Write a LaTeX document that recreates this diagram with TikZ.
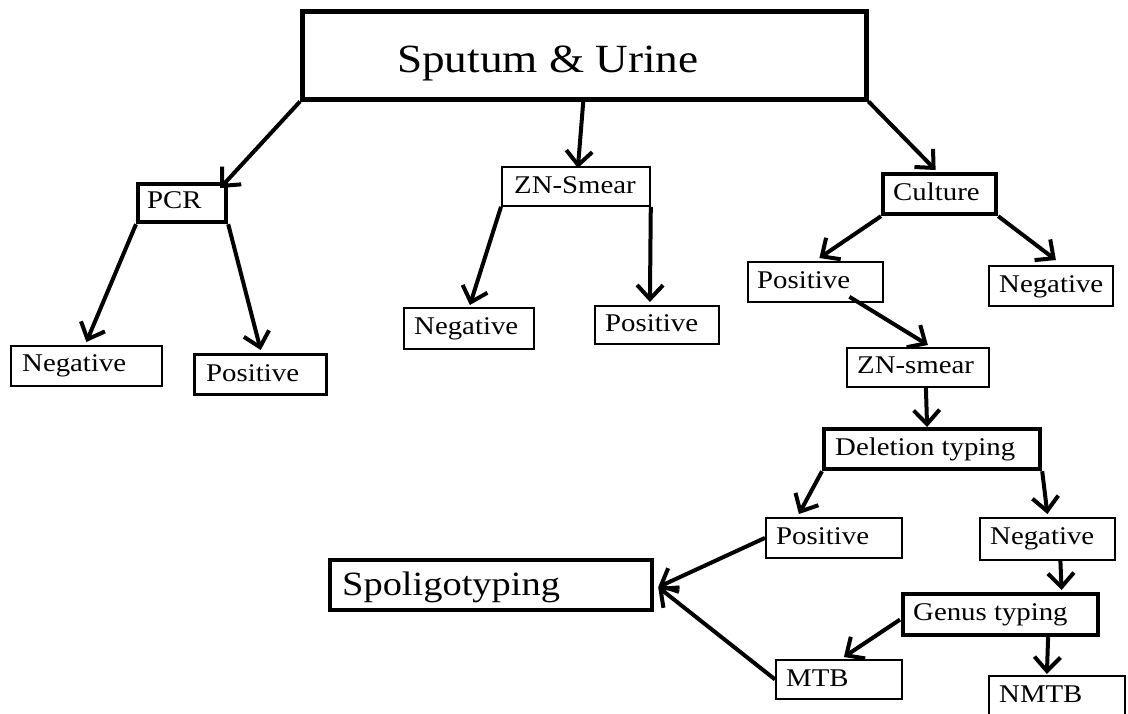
\documentclass[tikz,border=0pt]{standalone}
\usepackage{fontspec}
\setmainfont{Liberation Serif}[FakeStretch=1.13]
\usetikzlibrary{arrows.meta,calc}
\tikzset{
  thinbox/.style={draw=black, line width=1.8pt, inner sep=0pt, anchor=north west},
  thickbox/.style={draw=black, line width=4.2pt, inner sep=0pt, anchor=north west},
  txt/.style={inner sep=0pt, anchor=base west, font=\fontsize{25.5}{30}\selectfont},
  arr/.style={line width=4pt, -{Straight Barb[length=14pt,width=26pt,line width=4pt]}},
}
\begin{document}
\begin{tikzpicture}[x=1pt,y=-1pt]
\useasboundingbox (0,0) rectangle (1128,713);
\clip (0,0) rectangle (1128,713);
% boxes
\node[thickbox, line width=4.5pt, minimum width=564pt, minimum height=88pt] (main) at (300,9) {};
\node[thickbox, minimum width=88pt, minimum height=38pt] (pcr) at (136,182) {};
\node[thinbox, minimum width=148pt, minimum height=39pt] (zn) at (501,166) {};
\node[thickbox, minimum width=113pt, minimum height=40pt] (cul) at (881,172) {};
\node[thinbox, minimum width=151pt, minimum height=40pt] (pcrneg) at (10,345) {};
\node[thickbox, line width=3.4pt, minimum width=132pt, minimum height=40pt] (pcrpos) at (193,353) {};
\node[thinbox, minimum width=130pt, minimum height=41pt] (znneg) at (403,307) {};
\node[thinbox, minimum width=124pt, minimum height=38pt] (znpos) at (594,305) {};
\node[thinbox, minimum width=135pt, minimum height=40pt] (cpos) at (747,261) {};
\node[thinbox, minimum width=124pt, minimum height=40pt] (cneg) at (988,265) {};
\node[thinbox, minimum width=142pt, minimum height=39pt] (czn) at (846,347) {};
\node[thickbox, minimum width=216pt, minimum height=40pt] (del) at (822,427) {};
\node[thinbox, minimum width=136pt, minimum height=40pt] (dpos) at (765,517) {};
\node[thinbox, minimum width=135pt, minimum height=42pt] (dneg) at (979,517) {};
\node[thickbox, minimum width=195pt, minimum height=41pt] (genus) at (901,592) {};
\node[thinbox, minimum width=126pt, minimum height=39pt] (mtb) at (775,659) {};
\node[thinbox, minimum width=136pt, minimum height=60pt] (nmtb) at (988,675) {};
\node[thickbox, minimum width=322pt, minimum height=50pt] (spol) at (328,558) {};
% texts
\node[txt, font=\fontsize{40}{48}\selectfont] (tmain) at (397,72) {Sputum \& Urine};
\node[txt] (tpcr) at (147,208) {PCR};
\node[txt] (tzn) at (514,193) {ZN-Smear};
\node[txt] (tcul) at (893,200) {Culture};
\node[txt] (tpcrneg) at (22,371) {Negative};
\node[txt] (tpcrpos) at (206,381) {Positive};
\node[txt] (tznneg) at (414,334) {Negative};
\node[txt] (tznpos) at (605,331) {Positive};
\node[txt] (tcpos) at (757,288) {Positive};
\node[txt] (tcneg) at (999,292) {Negative};
\node[txt] (tczn) at (857,373) {ZN-smear};
\node[txt] (tdel) at (835,455) {Deletion typing};
\node[txt] (tdpos) at (776,544) {Positive};
\node[txt] (tdneg) at (990,544) {Negative};
\node[txt] (tgenus) at (913,620) {Genus typing};
\node[txt] (tmtb) at (786,686) {MTB};
\node[txt] (tnmtb) at (999,702) {NMTB};
\node[txt, font=\fontsize{34}{40}\selectfont] (tspol) at (342,595) {Spoligotyping};
% arrows
\draw[arr] (main.south west) -- ($(pcr.north east)+(-8,6)$);
\draw[arr] ($(main.south)+(-1,0)$) -- ($(zn.north)+(2,2)$);
\draw[arr] (main.south east) -- ($(cul.north)+(-4,-2)$);
\draw[arr] (pcr.south west) -- ($(pcrneg.north)+(0,-3)$);
\draw[arr] (pcr.south east) -- ($(pcrpos.north)+(0,-3)$);
\draw[arr] (zn.south west) -- ($(znneg.north)+(1,-2)$);
\draw[arr] (zn.south east) -- ($(znpos.north)+(-7,-3)$);
\draw[arr] (cul.south west) -- ($(cpos.north)+(4,-3)$);
\draw[arr] (cul.south east) -- ($(cneg.north)+(5,-5)$);
\draw[arr] ($(cpos.south)+(34,-6)$) -- ($(czn.north)+(10,-2)$);
\draw[arr] ($(czn.south)+(8,0)$) -- ($(del.north)+(-5,0)$);
\draw[arr] (del.south west) -- ($(dpos.north)+(-35,-3)$);
\draw[arr] (del.south east) -- ($(dneg.north)+(0,-3)$);
\draw[arr] ($(dneg.south)+(13,0)$) -- ($(genus.north)+(61,-2)$);
\draw[arr] ($(genus.west)+(-1,5)$) -- ($(mtb.north)+(5,-2)$);
\draw[arr] ($(genus.south)+(47.5,0)$) -- ($(nmtb.north)+(-10,-1)$);
\draw[arr] (dpos.west) -- ($(spol.east)+(4,2)$);
\draw[arr] (mtb.west) -- ($(spol.east)+(4,2)$);
\end{tikzpicture}
\end{document}
